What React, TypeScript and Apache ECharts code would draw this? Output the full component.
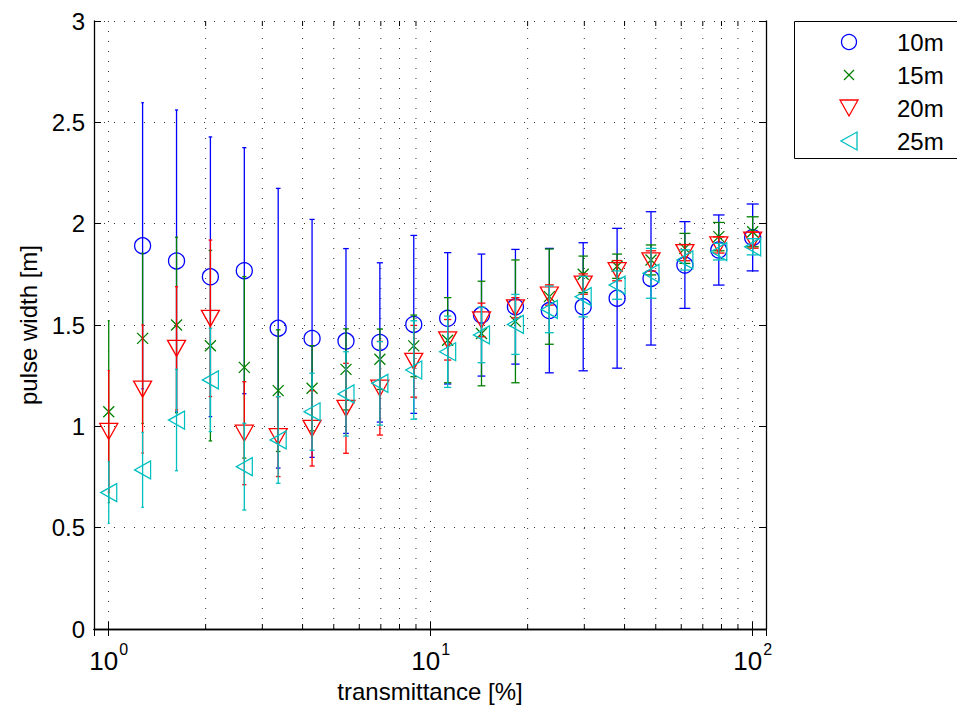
import React, { useEffect, useRef } from "react";
import * as echarts from "echarts";

// ---- data ----
const TRANSMITTANCE = [1, 1.274, 1.624, 2.069, 2.637, 3.36, 4.281, 5.456, 6.952, 8.859, 11.29, 14.38, 18.33, 23.36, 29.76, 37.93, 48.33, 61.58, 78.48, 100];

const MEAN_10M = [null, 1.891, 1.816, 1.738, 1.768, 1.484, 1.434, 1.421, 1.414, 1.503, 1.533, 1.549, 1.59, 1.571, 1.59, 1.632, 1.73, 1.796, 1.87, 1.932];
const ERR_10M = [null, 0.706, 0.745, 0.69, 0.607, 0.69, 0.587, 0.456, 0.393, 0.439, 0.324, 0.301, 0.283, 0.307, 0.316, 0.345, 0.329, 0.214, 0.173, 0.165];

const MEAN_15M = [1.072, 1.434, 1.5, 1.398, 1.291, 1.176, 1.188, 1.281, 1.331, 1.397, 1.425, 1.458, 1.518, 1.64, 1.75, 1.79, 1.821, 1.878, 1.936, 1.96];
const ERR_15M = [0.449, 0.42, 0.433, 0.47, 0.448, 0.3, 0.21, 0.2, 0.149, 0.152, 0.21, 0.258, 0.303, 0.235, 0.09, 0.06, 0.074, 0.074, 0.07, 0.074];

const MEAN_20M = [0.975, 1.184, 1.385, 1.533, 0.966, 0.949, 0.99, 1.089, 1.188, 1.321, 1.427, 1.525, 1.585, 1.648, 1.702, 1.768, 1.816, 1.857, 1.895, 1.919];
const ERR_20M = [0.3, 0.316, 0.304, 0.386, 0.254, 0.197, 0.186, 0.222, 0.231, 0.177, 0.1, 0.083, 0.05, 0.05, 0.05, 0.05, 0.05, 0.04, 0.04, 0.04];

const MEAN_25M = [0.673, 0.785, 1.031, 1.229, 0.801, 0.933, 1.072, 1.16, 1.212, 1.278, 1.368, 1.451, 1.503, 1.577, 1.64, 1.697, 1.755, 1.821, 1.862, 1.886];
const ERR_25M = [0.152, 0.185, 0.25, 0.255, 0.214, 0.214, 0.19, 0.208, 0.206, 0.243, 0.176, 0.137, 0.148, 0.115, 0.1, 0.07, 0.123, 0.05, 0.041, 0.04];

const SERIES_NAMES = ["10m", "15m", "20m", "25m"];
const X_MINOR_TICKS = [2, 3, 4, 5, 6, 7, 8, 9, 20, 30, 40, 50, 60, 70, 80, 90];
const X_MIN = 0.9;
const X_MAX = 110;
const Y_MIN = 0;
const Y_MAX = 3;
const Y_STEP = 0.5;

const FONT = "'Liberation Sans', Arial, Helvetica, sans-serif";
const COLORS = ["#0000ff", "#008000", "#ff0000", "#00bfbf"];
const GRID_DASH = [1, 9];
const GRID_COLOR = "#333";

const SYMBOLS = [
  { symbol: "circle", size: 16 },
  { symbol: "path://M0,0L10,10M10,0L0,10", size: 11 },
  { symbol: "path://M0,0L18,0L9,16Z", size: [18, 16] },
  { symbol: "path://M16,0L16,18L0,9Z", size: [16, 18] },
];

function errorSeries(name: string, color: string, means: (number | null)[], errs: (number | null)[], z: number) {
  const data: number[][] = [];
  TRANSMITTANCE.forEach((t, i) => {
    const m = means[i];
    const e = errs[i];
    if (m != null && e != null) data.push([t, m - e, m + e]);
  });
  return {
    type: "custom",
    name,
    z,
    silent: true,
    data,
    encode: { x: 0, y: [1, 2] },
    renderItem: (params: any, api: any) => {
      const x = api.value(0);
      const lo = api.coord([x, api.value(1)]);
      const hi = api.coord([x, api.value(2)]);
      const cap = 1 + 2.5 * Math.log10(x);
      const style = { stroke: color, lineWidth: 1.3 };
      return {
        type: "group",
        children: [
          { type: "line", shape: { x1: lo[0], y1: lo[1], x2: hi[0], y2: hi[1] }, style },
          { type: "line", shape: { x1: lo[0] - cap, y1: lo[1], x2: lo[0] + cap, y2: lo[1] }, style },
          { type: "line", shape: { x1: hi[0] - cap, y1: hi[1], x2: hi[0] + cap, y2: hi[1] }, style },
        ],
      };
    },
  };
}

function markerSeries(name: string, color: string, means: (number | null)[], idx: number, z: number) {
  const data: number[][] = [];
  TRANSMITTANCE.forEach((t, i) => {
    const m = means[i];
    if (m != null) data.push([t, m]);
  });
  return {
    type: "scatter",
    name,
    z,
    data,
    symbol: SYMBOLS[idx].symbol,
    symbolSize: SYMBOLS[idx].size,
    itemStyle: { color: "rgba(0,0,0,0)", borderColor: color, borderWidth: 1.3, opacity: 1 },
    emphasis: { disabled: true },
  };
}

const minorGridSeries = {
  type: "custom",
  name: "minor-grid",
  z: 1,
  silent: true,
  data: X_MINOR_TICKS.map((v) => [v, Y_MIN, Y_MAX]),
  encode: { x: 0, y: [1, 2] },
  renderItem: (params: any, api: any) => {
    const x = api.value(0);
    const b = api.coord([x, api.value(1)]);
    const t = api.coord([x, api.value(2)]);
    return {
      type: "group",
      children: [
        { type: "line", shape: { x1: b[0], y1: b[1], x2: t[0], y2: t[1] }, style: { stroke: GRID_COLOR, lineWidth: 1, lineDash: GRID_DASH } },
        { type: "line", shape: { x1: b[0], y1: b[1], x2: b[0], y2: b[1] - 5 }, style: { stroke: "#000", lineWidth: 1 } },
        { type: "line", shape: { x1: t[0], y1: t[1], x2: t[0], y2: t[1] + 5 }, style: { stroke: "#000", lineWidth: 1 } },
      ],
    };
  },
};

const MEANS = [MEAN_10M, MEAN_15M, MEAN_20M, MEAN_25M];
const ERRS = [ERR_10M, ERR_15M, ERR_20M, ERR_25M];

function legendGraphic() {
  const x0 = 794;
  const y0 = 21;
  const mx = 849;
  const tx = 897;
  const rows = [42, 75, 108, 141];
  const els: any[] = [
    { type: "rect", shape: { x: x0 + 0.5, y: y0 + 0.5, width: 180, height: 137 }, style: { fill: "#fff", stroke: "#000", lineWidth: 1 } },
    { type: "circle", shape: { cx: mx, cy: rows[0], r: 7.5 }, style: { fill: "none", stroke: COLORS[0], lineWidth: 1.3 } },
    { type: "line", shape: { x1: mx - 5, y1: rows[1] - 5, x2: mx + 5, y2: rows[1] + 5 }, style: { stroke: COLORS[1], lineWidth: 1.3 } },
    { type: "line", shape: { x1: mx + 5, y1: rows[1] - 5, x2: mx - 5, y2: rows[1] + 5 }, style: { stroke: COLORS[1], lineWidth: 1.3 } },
    { type: "polygon", shape: { points: [[mx - 9, rows[2] - 8], [mx + 9, rows[2] - 8], [mx, rows[2] + 8]] }, style: { fill: "none", stroke: COLORS[2], lineWidth: 1.3 } },
    { type: "polygon", shape: { points: [[mx + 8, rows[3] - 9], [mx + 8, rows[3] + 9], [mx - 8, rows[3]]] }, style: { fill: "none", stroke: COLORS[3], lineWidth: 1.3 } },
  ];
  SERIES_NAMES.forEach((n, i) => {
    els.push({
      type: "text",
      x: tx,
      y: rows[i],
      style: { text: n, fill: "#000", font: `24px ${FONT}`, textVerticalAlign: "middle", verticalAlign: "middle", align: "left" },
    });
  });
  return els;
}

function isPow10(v: number) {
  const l = Math.log10(v);
  return Math.abs(l - Math.round(l)) < 1e-6;
}

export default function App() {
  const ref = useRef<HTMLDivElement>(null);
  useEffect(() => {
    document.body.style.margin = "0";
    if (!ref.current) return;
    const chart = echarts.init(ref.current, undefined, { renderer: "svg" });
    const series: any[] = [minorGridSeries];
    SERIES_NAMES.forEach((n, i) => {
      series.push(errorSeries(n + " error", COLORS[i], MEANS[i], ERRS[i], 2 + i * 2));
      series.push(markerSeries(n, COLORS[i], MEANS[i], i, 3 + i * 2));
    });
    const option: any = {
      animation: false,
      backgroundColor: "#fff",
      textStyle: { fontFamily: FONT },
      grid: { left: 94, top: 21, width: 672, height: 608, containLabel: false },
      xAxis: [
        {
          type: "log",
          logBase: 10,
          min: X_MIN,
          max: X_MAX,
          name: "transmittance [%]",
          nameLocation: "middle",
          nameGap: 50,
          nameTextStyle: { fontSize: 24, color: "#000", fontFamily: FONT },
          axisLine: { show: true, lineStyle: { color: "#000", width: 1.3 } },
          axisTick: { show: true, inside: true, length: 7, lineStyle: { color: "#000" } },
          splitLine: { show: true, lineStyle: { color: GRID_COLOR, width: 1, type: GRID_DASH } },
          axisLabel: {
            margin: 12,
            color: "#000",
            formatter: (v: number) => (isPow10(v) ? `{b|10}{s|${Math.round(Math.log10(v))}}` : ""),
            rich: {
              b: { fontSize: 26, fontFamily: FONT, color: "#000" },
              s: { fontSize: 16, fontFamily: FONT, color: "#000", padding: [0, 0, 24, 1] },
            },
          },
        },
        {
          type: "log",
          logBase: 10,
          min: X_MIN,
          max: X_MAX,
          position: "top",
          axisLine: { show: true, lineStyle: { color: "#000", width: 1.3 } },
          axisTick: { show: true, inside: true, length: 7, lineStyle: { color: "#000" } },
          axisLabel: { show: false },
          splitLine: { show: false },
        },
      ],
      yAxis: [
        {
          type: "value",
          min: Y_MIN,
          max: Y_MAX,
          interval: Y_STEP,
          name: "pulse width [m]",
          nameLocation: "middle",
          nameGap: 52,
          nameTextStyle: { fontSize: 24, color: "#000", fontFamily: FONT },
          axisLine: { show: true, lineStyle: { color: "#000", width: 1.3 } },
          axisTick: { show: true, inside: true, length: 7, lineStyle: { color: "#000" } },
          splitLine: { show: true, lineStyle: { color: GRID_COLOR, width: 1, type: GRID_DASH } },
          axisLabel: { margin: 9, fontSize: 24, color: "#000", fontFamily: FONT },
        },
        {
          type: "value",
          min: Y_MIN,
          max: Y_MAX,
          interval: Y_STEP,
          position: "right",
          axisLine: { show: true, lineStyle: { color: "#000", width: 1.3 } },
          axisTick: { show: true, inside: true, length: 7, lineStyle: { color: "#000" } },
          axisLabel: { show: false },
          splitLine: { show: false },
        },
      ],
      series,
      graphic: legendGraphic(),
    };
    chart.setOption(option);
    return () => chart.dispose();
  }, []);
  return <div ref={ref} style={{ position: "absolute", left: 0, top: 0, width: 957, height: 710 }} />;
}
